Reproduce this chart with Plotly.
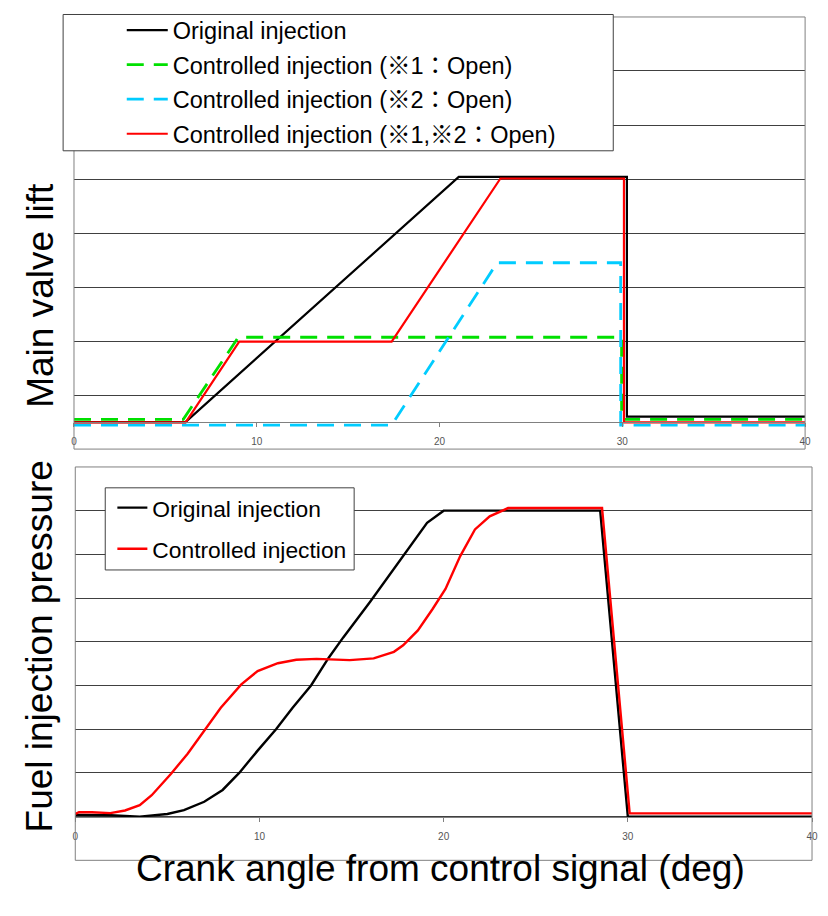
import plotly.graph_objects as go

# browser window is 828 x 916 and the page body has an 8px margin,
# so the figure itself is 812 x 900 and sits at (8, 8)
WIN_W, WIN_H = 828, 916
OFF = 8
W, H = WIN_W - 2 * OFF, WIN_H - 2 * OFF

# ---------------- data: main valve lift (arbitrary units, grid step = 1) ----------------
lift_orig_x = [0, 6.1, 21.05, 30.25, 30.25, 40]
lift_orig_y = [-0.5, -0.5, 4.04, 4.04, -0.40, -0.40]

lift_c1_x = [0, 5.98, 8.99, 29.96, 29.96, 40]
lift_c1_y = [-0.45, -0.45, 1.07, 1.07, -0.45, -0.45]

lift_c2_x = [0, 17.38, 23.15, 29.91, 29.91, 40]
lift_c2_y = [-0.555, -0.555, 2.45, 2.45, -0.555, -0.555]

lift_c12_x = [0, 6.11, 9.04, 17.38, 23.33, 30.09, 30.09, 40]
lift_c12_y = [-0.505, -0.505, 0.99, 0.99, 4.01, 4.01, -0.505, -0.505]

# ---------------- data: fuel injection pressure (arbitrary units) ----------------
pres_orig_x = [0, 1.9, 3.5, 5.0, 5.9, 7.0, 8.0, 8.9, 9.9, 10.9, 11.8, 12.8, 13.75, 14.55,
               16.0, 17.8, 19.1, 20.0, 28.5, 30.0, 40]
pres_orig_y = [0.04, 0.03, 0.0, 0.06, 0.15, 0.34, 0.61, 1.0, 1.51, 2.0, 2.49, 3.0, 3.63, 4.1,
               4.91, 5.96, 6.72, 7.0, 7.0, 0.0, 0.0]

pres_ctrl_x = [0, 0.2, 0.9, 1.9, 2.7, 3.5, 4.15, 5.2, 6.1, 7.0, 7.9, 9.0, 9.9, 11.0, 12.0,
               13.1, 14.9, 16.2, 17.3, 17.8, 18.6, 19.4, 20.1, 20.9, 21.7, 22.5, 23.5, 28.6, 30.1, 40]
pres_ctrl_y = [0.06, 0.10, 0.10, 0.08, 0.14, 0.26, 0.49, 0.98, 1.44, 1.97, 2.49, 3.02, 3.33, 3.51, 3.59,
               3.61, 3.58, 3.62, 3.77, 3.92, 4.26, 4.75, 5.21, 5.96, 6.57, 6.87, 7.06, 7.06, 0.075, 0.075]

x_ticks = [0, 10, 20, 30, 40]
lift_grid = [0, 1, 2, 3, 4, 5, 6, 7]
pres_grid = [0, 1, 2, 3, 4, 5, 6, 7, 8]

names_top = ["Original injection",
             "Controlled injection (※1：Open)",
             "Controlled injection (※2：Open)",
             "Controlled injection (※1,※2：Open)"]
names_bottom = ["Original injection", "Controlled injection"]
title_lift = "Main valve lift"
title_pres = "Fuel injection pressure"
title_x = "Crank angle from control signal (deg)"


def px(p):
    """window pixel x -> paper fraction"""
    return (p - OFF) / W


def py(p):
    """window pixel y (from top) -> paper fraction"""
    return 1 - (p - OFF) / H


LEG_FONT = "Liberation Sans, Arial, Noto Sans CJK JP, sans-serif"
TITLE_FONT = "Liberation Sans, Arial, sans-serif"

fig = go.Figure()

# top chart traces
fig.add_trace(go.Scatter(x=lift_orig_x, y=lift_orig_y, mode="lines", name=names_top[0],
                         line=dict(color="black", width=2.2), xaxis="x", yaxis="y",
                         legend="legend", legendgroup="t1"))
fig.add_trace(go.Scatter(x=lift_c1_x, y=lift_c1_y, mode="lines", name=names_top[1],
                         line=dict(color="#00e000", width=2.8, dash="17px,10px"), xaxis="x", yaxis="y",
                         legend="legend", legendgroup="t2"))
fig.add_trace(go.Scatter(x=lift_c2_x, y=lift_c2_y, mode="lines", name=names_top[2],
                         line=dict(color="#00ccff", width=2.8, dash="17px,10px"), xaxis="x", yaxis="y",
                         legend="legend", legendgroup="t3"))
fig.add_trace(go.Scatter(x=lift_c12_x, y=lift_c12_y, mode="lines", name=names_top[3],
                         line=dict(color="#ff0000", width=2.2), xaxis="x", yaxis="y",
                         legend="legend", legendgroup="t4"))

# bottom chart traces
fig.add_trace(go.Scatter(x=pres_orig_x, y=pres_orig_y, mode="lines", name=names_bottom[0],
                         line=dict(color="black", width=2.4), xaxis="x2", yaxis="y2",
                         legend="legend2", legendgroup="b1"))
fig.add_trace(go.Scatter(x=pres_ctrl_x, y=pres_ctrl_y, mode="lines", name=names_bottom[1],
                         line=dict(color="#ff0000", width=2.4), xaxis="x2", yaxis="y2",
                         legend="legend2", legendgroup="b2"))

xaxis_common = dict(range=[0, 40], tickvals=x_ticks, showgrid=False, zeroline=False,
                    showline=True, linecolor="#808080", linewidth=1, ticks="outside",
                    ticklen=4, tickcolor="#808080",
                    tickfont=dict(family=TITLE_FONT, size=10, color="#555555"),
                    ticklabelstandoff=6, fixedrange=True)
yaxis_common = dict(showticklabels=False, showgrid=True, gridcolor="#404040", gridwidth=1,
                    zeroline=False, showline=False, ticks="", fixedrange=True)

fig.update_layout(
    width=W, height=H,
    margin=dict(l=0, r=0, t=0, b=0),
    paper_bgcolor="white", plot_bgcolor="white",
    showlegend=True,
    xaxis=dict(domain=[px(71.7), px(811)], anchor="free", position=py(419), **xaxis_common),
    yaxis=dict(domain=[py(446), py(11)], anchor="x", range=[-1, 7], tickvals=lift_grid, **yaxis_common),
    xaxis2=dict(domain=[px(73), px(818)], anchor="free", position=py(816.7), **xaxis_common),
    yaxis2=dict(domain=[py(860), py(464)], anchor="x2", range=[-1, 8], tickvals=pres_grid, **yaxis_common),
    legend=dict(x=px(120), y=py(2.3), xanchor="left", yanchor="top", bgcolor="rgba(0,0,0,0)",
                borderwidth=0, font=dict(family=LEG_FONT, size=23.5, color="black"),
                itemwidth=41, tracegroupgap=1, traceorder="grouped"),
    legend2=dict(x=px(110.5), y=py(483.5), xanchor="left", yanchor="top", bgcolor="rgba(0,0,0,0)",
                 borderwidth=0, font=dict(family=LEG_FONT, size=22.8, color="black"),
                 itemwidth=30, tracegroupgap=8.4, traceorder="grouped"),
    shapes=[
        dict(type="rect", xref="x domain", yref="y domain", x0=0, x1=1, y0=0, y1=1,
             line=dict(color="#808080", width=1), layer="above"),
        dict(type="rect", xref="x2 domain", yref="y2 domain", x0=0, x1=1, y0=0, y1=1,
             line=dict(color="#808080", width=1), layer="above"),
        dict(type="rect", xref="paper", yref="paper", x0=px(60.7), x1=px(617), y0=py(145.7), y1=py(8.5),
             fillcolor="white", line=dict(color="#404040", width=1), layer="above"),
        dict(type="rect", xref="paper", yref="paper", x0=px(103.3), x1=px(355), y0=py(567.7), y1=py(485),
             fillcolor="white", line=dict(color="#404040", width=1), layer="above"),
    ],
    annotations=[
        dict(text=title_lift, xref="paper", yref="paper", x=px(37), y=py(291), textangle=-90,
             showarrow=False, xanchor="center", yanchor="middle",
             font=dict(family=TITLE_FONT, size=37, color="black")),
        dict(text=title_pres, xref="paper", yref="paper", x=px(37), y=py(645), textangle=-90,
             showarrow=False, xanchor="center", yanchor="middle",
             font=dict(family=TITLE_FONT, size=37, color="black")),
        dict(text=title_x, xref="paper", yref="paper", x=px(442), y=py(868),
             showarrow=False, xanchor="center", yanchor="middle",
             font=dict(family=TITLE_FONT, size=37, color="black")),
    ],
)

fig.write_html("out.html")
